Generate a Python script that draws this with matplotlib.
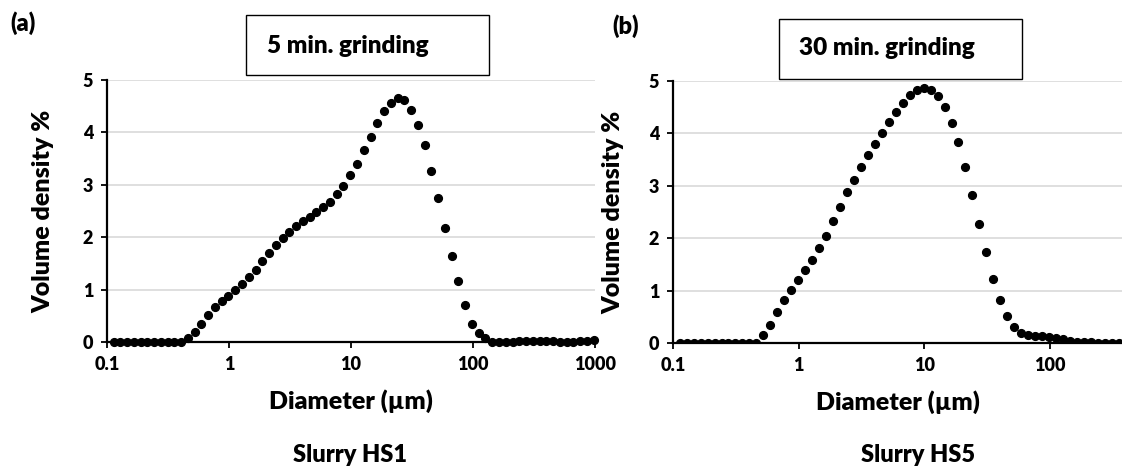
import matplotlib
matplotlib.use('Agg')
import matplotlib.pyplot as plt
from matplotlib.ticker import FixedLocator, FixedFormatter, NullLocator

WEIGHT = 'heavy'
plt.rcParams['font.family'] = ['Lato', 'DejaVu Sans']
plt.rcParams['font.weight'] = WEIGHT

# particle size classes (um), laser diffraction bins
sizes = [0.1131, 0.1285, 0.1460, 0.1658, 0.1884, 0.2141, 0.2432, 0.2763,
         0.3139, 0.3566, 0.4052, 0.4603, 0.5230, 0.5942, 0.6750, 0.7669,
         0.8713, 0.9899, 1.125, 1.278, 1.452, 1.650, 1.875, 2.130, 2.420,
         2.750, 3.124, 3.549, 4.033, 4.582, 5.206, 5.916, 6.721, 7.637,
         8.677, 9.858, 11.20, 12.72, 14.46, 16.43, 18.66, 21.21, 24.09,
         27.37, 31.10, 35.34, 40.15, 45.61, 51.82, 58.88, 66.90, 76.01,
         86.36, 98.11, 111.5, 126.6, 143.9, 163.5, 185.8, 211.0, 239.8,
         272.4, 309.5, 351.7, 399.5, 453.9, 515.7, 586.0, 665.8, 756.4,
         859.4, 976.4]

# volume density % - slurry HS1 (5 min grinding)
hs1 = [0, 0, 0, 0, 0, 0, 0, 0, 0, 0, 0,
       0.07, 0.19, 0.35, 0.51, 0.66, 0.78, 0.88, 0.99, 1.10, 1.24, 1.38,
       1.54, 1.70, 1.86, 1.99, 2.10, 2.21, 2.30, 2.39, 2.48, 2.58, 2.68,
       2.82, 2.98, 3.18, 3.40, 3.66, 3.92, 4.18, 4.41, 4.57, 4.65, 4.61,
       4.43, 4.15, 3.75, 3.27, 2.75, 2.18, 1.64, 1.16, 0.71, 0.35, 0.17,
       0.07, 0, 0, 0, 0, 0.01, 0.02, 0.02, 0.02, 0.02, 0.01, 0, 0, 0,
       0.01, 0.02, 0.04]

# volume density % - slurry HS5 (30 min grinding)
hs5 = [0, 0, 0, 0, 0, 0, 0, 0, 0, 0, 0, 0,
       0.15, 0.35, 0.59, 0.82, 1.02, 1.21, 1.39, 1.59, 1.81, 2.05, 2.32,
       2.60, 2.88, 3.12, 3.36, 3.58, 3.79, 4.00, 4.21, 4.40, 4.58, 4.73,
       4.82, 4.87, 4.82, 4.71, 4.50, 4.20, 3.83, 3.36, 2.83, 2.28, 1.73,
       1.23, 0.83, 0.51, 0.31, 0.19, 0.15, 0.13, 0.13, 0.11, 0.10, 0.07,
       0.04, 0.02, 0.01, 0.01, 0, 0, 0, 0]

xticks = [0.1, 1, 10, 100, 1000]
xticklabels = ['0.1', '1', '10', '100', '1000']
yticks = [0, 1, 2, 3, 4, 5]

W, H = 1122, 476
fig = plt.figure(figsize=(W / 100, H / 100), dpi=100)


def px_axes(x0, x1, y0, y1):
    return fig.add_axes([x0 / W, 1 - y1 / H, (x1 - x0) / W, (y1 - y0) / H])


def style(ax, xmax, ylab_x):
    ax.set_xscale('log')
    ax.set_xlim(0.1, xmax)
    ax.set_ylim(0, 5)
    ax.xaxis.set_major_locator(FixedLocator(xticks))
    ax.xaxis.set_major_formatter(FixedFormatter(xticklabels))
    ax.xaxis.set_minor_locator(NullLocator())
    ax.set_yticks(yticks)
    ax.grid(axis='y', color='#d9d9d9', linewidth=1.2)
    ax.set_axisbelow(True)
    for s in ['top', 'right']:
        ax.spines[s].set_visible(False)
    for s in ['left', 'bottom']:
        ax.spines[s].set_linewidth(1.6)
        ax.spines[s].set_color('black')
    ax.tick_params(direction='out', length=4, width=1.3, labelsize=13,
                   pad=6)
    ax.set_xlabel('Diameter (µm)', fontsize=18, fontweight=WEIGHT)
    ax.set_ylabel('Volume density %', fontsize=18, fontweight=WEIGHT)
    ax.xaxis.set_label_coords(0.5, -0.18)
    ax.yaxis.set_label_coords(ylab_x, 0.5)


ax1 = px_axes(107, 595, 80, 342)
ax1.plot(sizes, hs1, 'o', color='black', markersize=5.6, clip_on=False)
style(ax1, 1000, -0.107)

ax2 = px_axes(673, 1122, 81, 343)
ax2.plot(sizes[:len(hs5)], hs5, 'o', color='black', markersize=5.6)
style(ax2, 373, -0.109)

# panel letters, boxed titles and captions
fig.text(10 / W, 1 - 23 / H, '(a)', fontsize=17, fontweight=WEIGHT, va='center')
fig.text(612 / W, 1 - 26 / H, '(b)', fontsize=17, fontweight=WEIGHT, va='center')

fig.patches.append(plt.Rectangle((246 / W, 1 - 75 / H), 243 / W, 60 / H,
                                 transform=fig.transFigure, fill=False,
                                 edgecolor='black', linewidth=1))
fig.patches.append(plt.Rectangle((779 / W, 1 - 79 / H), 243 / W, 60 / H,
                                 transform=fig.transFigure, fill=False,
                                 edgecolor='black', linewidth=1))
fig.text(267 / W, 1 - 46 / H, '5 min. grinding', fontsize=17.5,
         fontweight=WEIGHT, va='center')
fig.text(799 / W, 1 - 48 / H, '30 min. grinding', fontsize=17.5,
         fontweight=WEIGHT, va='center')

fig.text(350 / W, 1 - 455 / H, 'Slurry HS1', fontsize=17, fontweight=WEIGHT,
         ha='center', va='center')
fig.text(918 / W, 1 - 455 / H, 'Slurry HS5', fontsize=17, fontweight=WEIGHT,
         ha='center', va='center')

plt.savefig('out.png', dpi=100)
